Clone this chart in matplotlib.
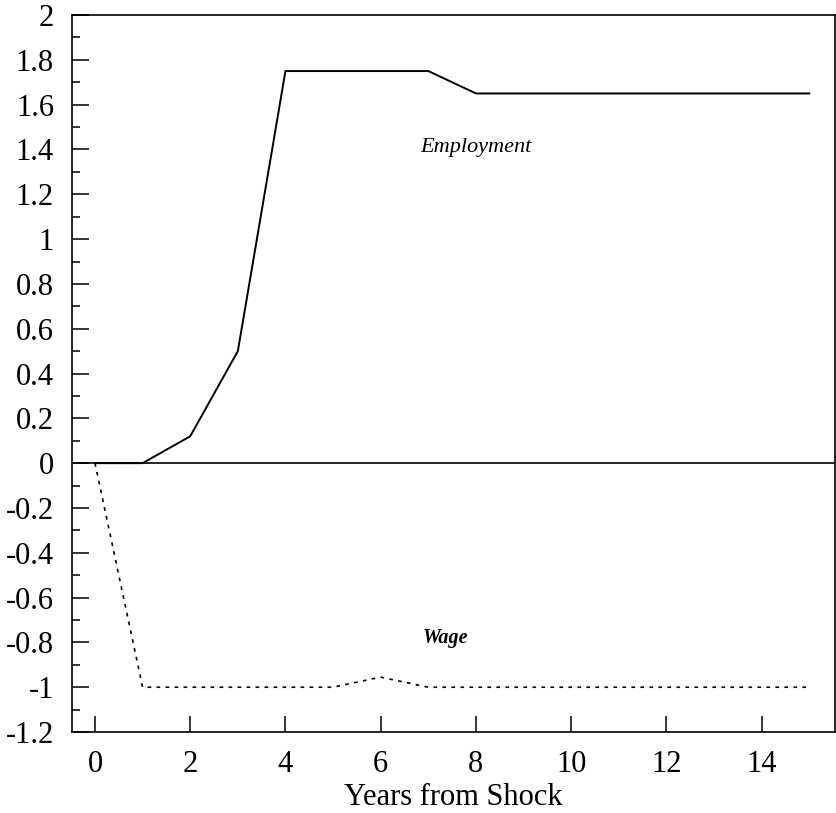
import matplotlib
matplotlib.use("Agg")
import matplotlib.pyplot as plt
from matplotlib.ticker import MultipleLocator

years = [0, 1, 2, 3, 4, 5, 6, 7, 8, 9, 10, 11, 12, 13, 14, 15]
employment = [0, 0, 0.12, 0.50, 1.75, 1.75, 1.75, 1.75, 1.65, 1.65, 1.65, 1.65, 1.65, 1.65, 1.65, 1.65]
wage = [0, -1.0, -1.0, -1.0, -1.0, -1.0, -0.955, -1.0, -1.0, -1.0, -1.0, -1.0, -1.0, -1.0, -1.0, -1.0]
y_ticks = [2, 1.8, 1.6, 1.4, 1.2, 1, 0.8, 0.6, 0.4, 0.2, 0, -0.2, -0.4, -0.6, -0.8, -1, -1.2]
y_tick_labels = ["2", "1.8", "1.6", "1.4", "1.2", "1", "0.8", "0.6", "0.4", "0.2", "0",
                 "-0.2", "-0.4", "-0.6", "-0.8", "-1", "-1.2"]
x_ticks = [0, 2, 4, 6, 8, 10, 12, 14]

plt.rcParams['font.family'] = ['Liberation Serif', 'DejaVu Serif']

fig = plt.figure(figsize=(8.37, 8.13), dpi=100)
ax = fig.add_axes([0.086, 0.0996, 0.9116, 0.8819])

ax.axhline(0, color='black', lw=1.2)
ax.plot(years, employment, color='black', lw=1.4, solid_joinstyle='miter')
ax.plot(years, wage, color='black', lw=1.2, linestyle=(0, (2.2, 3.2)))

ax.set_xlim(-0.483, 15.54)
ax.set_ylim(-1.2, 2.0)

ax.set_yticks(y_ticks)
ax.set_yticklabels(y_tick_labels)
ax.yaxis.set_minor_locator(MultipleLocator(0.1))
ax.set_xticks(x_ticks)

ax.tick_params(axis='y', which='major', direction='in', length=12, width=1.1,
               labelsize=22, pad=13, right=False)
ax.tick_params(axis='y', which='minor', direction='in', length=6, width=1.1, right=False)
ax.tick_params(axis='x', which='major', direction='in', length=11.5, width=1.1,
               labelsize=22, pad=13, top=False)

for s in ax.spines.values():
    s.set_linewidth(1.2)

ax.set_xlabel("Years from Shock", fontsize=22, labelpad=3)

ax.text(8.0, 1.41, "Employment", fontsize=16, style='italic', ha='center', va='center')
ax.text(7.35, -0.78, "Wage", fontsize=14.5, style='italic', weight='bold', ha='center', va='center')

fig.savefig("out.png", dpi=100)
